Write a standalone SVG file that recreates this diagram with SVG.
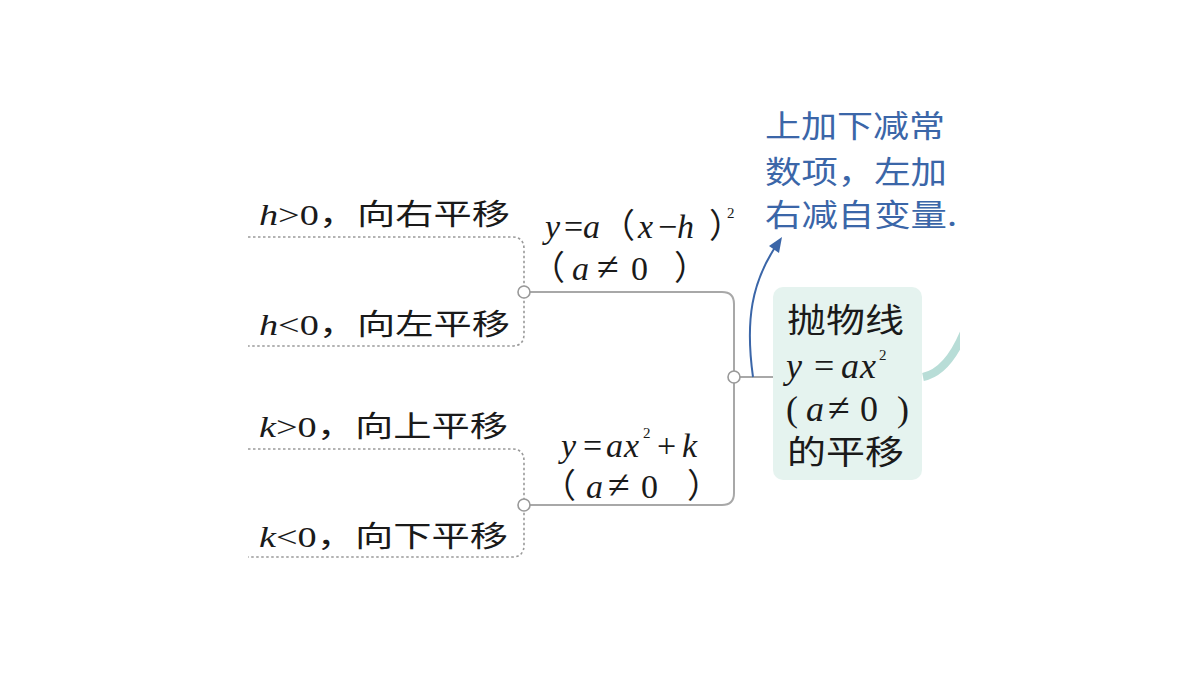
<svg xmlns="http://www.w3.org/2000/svg" width="1200" height="675" viewBox="0 0 1200 675">
<defs>
<style>
.cn{font-family:"Liberation Serif","Noto Sans CJK SC",serif;font-size:29px;fill:#1a1a1a}
.f{font-size:34px}
.nd{font-size:33px}
.nm{font-size:36px}
.m{font-family:"Liberation Serif",serif;font-style:italic}
.r{font-family:"Liberation Serif",serif;font-style:normal}
.ne{font-family:"Liberation Serif",serif;font-style:normal;font-size:40px}
.k{font-family:"Noto Sans CJK SC",sans-serif;font-style:normal}
.sup{font-family:"Liberation Serif",serif;font-size:15px;fill:#1a1a1a}
.blue{font-family:"Noto Sans CJK SC",sans-serif;font-size:31px;fill:#3b66a8}
.solid{fill:none;stroke:#a8a8a8;stroke-width:2}
.dot{fill:none;stroke:#9a9a9a;stroke-width:1.6;stroke-dasharray:2.5 2.5}
.hub{fill:#fff;stroke:#999;stroke-width:1.6}
</style>
<clipPath id="clipR"><rect x="0" y="0" width="960" height="675"/></clipPath>
</defs>
<rect width="1200" height="675" fill="#fff"/>

<g id="connectors">
<path class="solid" d="M524,292 H722 Q734,292 734,304 V493 Q734,505 722,505 H524"/>
<path class="solid" d="M734,377 H773"/>
<path class="dot" d="M248,237 H512 Q524,237 524,249 V334 Q524,346 512,346 H248"/>
<path class="dot" d="M248,449 H512 Q524,449 524,461 V545 Q524,557 512,557 H248"/>
<circle class="hub" cx="524" cy="292" r="6"/>
<circle class="hub" cx="524" cy="505" r="6"/>
<circle class="hub" cx="734" cy="377" r="6"/>
<path d="M753,377 C745,320 752,282 776,246" fill="none" stroke="#3b66a8" stroke-width="2"/>
<polygon points="782,237 779,253 769,246" fill="#3b66a8"/>
<path d="M923,377 Q948,372 965,330" fill="none" stroke="#b8ddd7" stroke-width="8" clip-path="url(#clipR)"/>
</g>

<g id="node-main">
<rect x="773" y="287" width="149" height="193" rx="10" fill="#e5f3ef"/>
<text class="cn nd" x="787" y="332" textLength="117" lengthAdjust="spacingAndGlyphs"><tspan class="k">抛物线</tspan></text>
<text class="cn nm" y="378"><tspan class="m" x="786">y</tspan><tspan class="r" x="814">=</tspan><tspan class="m" x="841">a</tspan><tspan class="m" x="860">x</tspan></text>
<text class="sup" x="879" y="360">2</text>
<text class="cn nm" y="421"><tspan class="r" x="786">(</tspan><tspan class="m" x="806">a</tspan><tspan class="ne" x="828">≠</tspan><tspan class="r" x="860">0</tspan><tspan class="r" x="897">)</tspan></text>
<text class="cn nd" x="787" y="464" textLength="117" lengthAdjust="spacingAndGlyphs"><tspan class="k">的平移</tspan></text>
</g>

<g id="node-note">
<text class="blue" x="765" y="137" textLength="180" lengthAdjust="spacingAndGlyphs">上加下减常</text>
<text class="blue" x="765" y="183" textLength="182" lengthAdjust="spacingAndGlyphs">数项，左加</text>
<text class="blue" x="765" y="226" textLength="192" lengthAdjust="spacingAndGlyphs">右减自变量.</text>
</g>

<g id="node-vertex">
<text class="cn f" y="238"><tspan class="m" x="545">y</tspan><tspan class="r" x="564">=</tspan><tspan class="m" x="583">a</tspan><tspan class="k" x="601">（</tspan><tspan class="m" x="638">x</tspan><tspan class="r" x="658">−</tspan><tspan class="m" x="677">h</tspan><tspan class="k" x="709">）</tspan></text>
<text class="sup" x="727" y="218">2</text>
<text class="cn f" y="280"><tspan class="k" x="531">（</tspan><tspan class="m" x="572">a</tspan><tspan class="ne" x="597">≠</tspan><tspan class="r" x="631">0</tspan><tspan class="k" x="674">）</tspan></text>
</g>

<g id="node-k">
<text class="cn f" y="457"><tspan class="m" x="561">y</tspan><tspan class="r" x="583">=</tspan><tspan class="m" x="606">a</tspan><tspan class="m" x="624">x</tspan><tspan class="r" x="657">+</tspan><tspan class="m" x="682">k</tspan></text>
<text class="sup" x="643" y="438">2</text>
<text class="cn f" y="498"><tspan class="k" x="542">（</tspan><tspan class="m" x="586">a</tspan><tspan class="ne" x="608">≠</tspan><tspan class="r" x="641">0</tspan><tspan class="k" x="687">）</tspan></text>
</g>

<g id="node-h1"><text class="cn" x="259" y="225" textLength="251" lengthAdjust="spacingAndGlyphs"><tspan class="m">h</tspan><tspan class="r">&gt;0</tspan><tspan class="k">，向右平移</tspan></text></g>
<g id="node-h2"><text class="cn" x="259" y="335" textLength="251" lengthAdjust="spacingAndGlyphs"><tspan class="m">h</tspan><tspan class="r">&lt;0</tspan><tspan class="k">，向左平移</tspan></text></g>
<g id="node-k1"><text class="cn" x="259" y="437" textLength="249" lengthAdjust="spacingAndGlyphs"><tspan class="m">k</tspan><tspan class="r">&gt;0</tspan><tspan class="k">，向上平移</tspan></text></g>
<g id="node-k2"><text class="cn" x="259" y="547" textLength="249" lengthAdjust="spacingAndGlyphs"><tspan class="m">k</tspan><tspan class="r">&lt;0</tspan><tspan class="k">，向下平移</tspan></text></g>
</svg>
